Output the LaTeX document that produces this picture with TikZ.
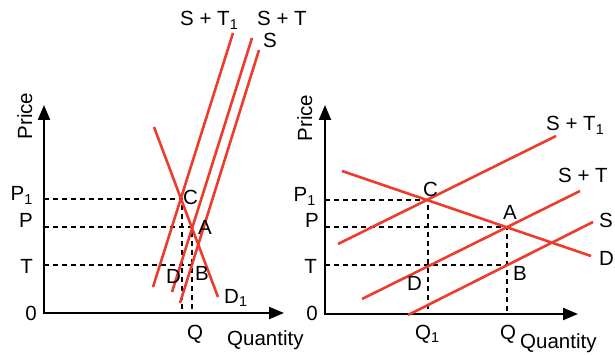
\documentclass[tikz,border=0pt]{standalone}
\usepackage{fontspec}
\setmainfont{Liberation Sans}
\usetikzlibrary{arrows.meta}
\definecolor{curvered}{RGB}{235,60,45}
\begin{document}
\begin{tikzpicture}[x=1pt,y=-1pt,
  curve/.style={draw=curvered,line width=2.6pt},
  axis/.style={draw=black,line width=2.2pt,{Triangle[length=15pt,width=12pt]}-{Triangle[length=15pt,width=12pt]}},
  guide/.style={draw=black,line width=1.3pt,dash pattern=on 5pt off 4pt},
  lbl/.style={inner sep=0pt,anchor=base west,font=\fontsize{20.5}{24}\selectfont},
  rlbl/.style={lbl,anchor=base east},
  ylbl/.style={lbl,anchor=base,rotate=90}]
\useasboundingbox (0,0) rectangle (615,355);

% ---------------- left panel ----------------
\coordinate (Ly) at (44,105);
\coordinate (Lo) at (44,313);
\coordinate (Lx) at (284,313);
\draw[axis] (Ly) -- (Lo) -- (Lx);

\coordinate (LP1) at (44,199);
\coordinate (LP)  at (44,227);
\coordinate (LT)  at (44,265);
\coordinate (LC)  at (182,199);
\coordinate (LA)  at (192,227);
\coordinate (LB)  at (192,265);
\coordinate (LQ1) at (182,313);
\coordinate (LQ)  at (192,313);
\draw[guide] (LP1) -- (LC) -- (LQ1);
\draw[guide] (LP) -- (LA) -- (LQ);
\draw[guide] (LT) -- (LB);

\coordinate (LST1a) at (153,287); \coordinate (LST1b) at (233,33);
\coordinate (LSTa)  at (172,292); \coordinate (LSTb)  at (252,38);
\coordinate (LSa)   at (180,303); \coordinate (LSb)   at (259,50);
\coordinate (LDa)   at (154,127); \coordinate (LDb)   at (218,297);
\draw[curve] (LST1a) -- (LST1b);
\draw[curve] (LSTa) -- (LSTb);
\draw[curve] (LSa) -- (LSb);
\draw[curve] (LDa) -- (LDb);

\node[ylbl] (lprice) at (32,116) {Price};
\node[rlbl] (lp1lab) at (33,201) {P\textsubscript{1}};
\node[rlbl] (lplab)  at (33,228) {P};
\node[rlbl] (ltlab)  at (33,273) {T};
\node[rlbl] (l0lab)  at (37,320) {0};
\node[lbl] (lst1lab) at (180,26) {S + T\textsubscript{1}};
\node[lbl] (lstlab)  at (257,26) {S + T};
\node[lbl] (lslab)   at (263,48) {S};
\node[lbl] (lclab)   at (183,205) {C};
\node[lbl] (lalab)   at (198,235) {A};
\node[lbl] (ldlab)   at (166,283) {D};
\node[lbl] (lblab)   at (195,280) {B};
\node[lbl] (ld1lab)  at (224,303) {D\textsubscript{1}};
\node[lbl] (lqlab)   at (187,339) {Q};
\node[lbl] (lqty)    at (227,345) {Quantity};

% ---------------- right panel ----------------
\coordinate (Ry) at (325,105);
\coordinate (Ro) at (325,314);
\coordinate (Rx) at (578,314);
\draw[axis] (Ry) -- (Ro) -- (Rx);

\coordinate (RP1) at (325,200);
\coordinate (RP)  at (325,227);
\coordinate (RT)  at (325,265);
\coordinate (RC)  at (428,200);
\coordinate (RA)  at (507,227);
\coordinate (RB)  at (507,265);
\coordinate (RQ1) at (428,314);
\coordinate (RQ)  at (507,314);
\draw[guide] (RP1) -- (RC) -- (RQ1);
\draw[guide] (RP) -- (RA) -- (RQ);
\draw[guide] (RT) -- (RB);

\coordinate (RST1a) at (338,244); \coordinate (RST1b) at (556,136);
\coordinate (RSTa)  at (362,299); \coordinate (RSTb)  at (580,191);
\coordinate (RSa)   at (408,315); \coordinate (RSb)   at (593,222);
\coordinate (RDa)   at (342,171); \coordinate (RDb)   at (591,256);
\draw[curve] (RST1a) -- (RST1b);
\draw[curve] (RSTa) -- (RSTb);
\draw[curve] (RSa) -- (RSb);
\draw[curve] (RDa) -- (RDb);

\node[ylbl] (rprice) at (312,118) {Price};
\node[rlbl] (rp1lab) at (316,202) {P\textsubscript{1}};
\node[rlbl] (rplab)  at (319,228) {P};
\node[rlbl] (rtlab)  at (317,273) {T};
\node[rlbl] (r0lab)  at (318,320) {0};
\node[lbl] (rst1lab) at (546,131) {S + T\textsubscript{1}};
\node[lbl] (rstlab)  at (558,183) {S + T};
\node[lbl] (rslab)   at (599,228) {S};
\node[lbl] (rd2lab)  at (599,265) {D\textsubscript{2}};
\node[lbl] (rclab)   at (423,197) {C};
\node[lbl] (ralab)   at (503,220) {A};
\node[lbl] (rblab)   at (513,280) {B};
\node[lbl] (rdlab)   at (407,290) {D};
\node[lbl] (rq1lab)  at (415,339) {Q\textsubscript{1}};
\node[lbl] (rqlab)   at (500,339) {Q};
\node[lbl] (rqty)    at (520,348) {Quantity};
\end{tikzpicture}
\end{document}
